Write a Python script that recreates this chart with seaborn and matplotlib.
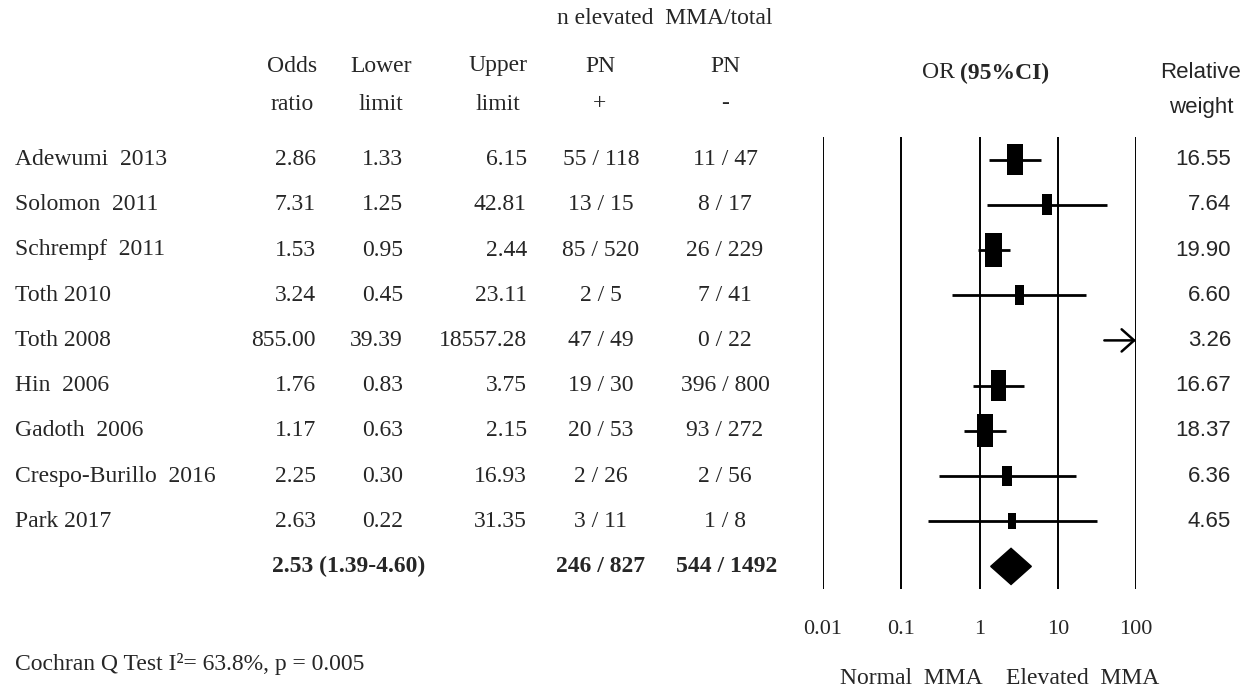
import numpy as np
import pandas as pd
import matplotlib
matplotlib.use("Agg")
import matplotlib.pyplot as plt
import matplotlib.transforms as mtransforms
import seaborn as sns

# Data
studies = ["Adewumi  2013", "Solomon  2011", "Schrempf  2011", "Toth 2010", "Toth 2008",
           "Hin  2006", "Gadoth  2006", "Crespo-Burillo  2016", "Park 2017"]
odds = [2.86, 7.31, 1.53, 3.24, 855.00, 1.76, 1.17, 2.25, 2.63]
lower = [1.33, 1.25, 0.95, 0.45, 39.39, 0.83, 0.63, 0.30, 0.22]
upper = [6.15, 42.81, 2.44, 23.11, 18557.28, 3.75, 2.15, 16.93, 31.35]
pn_pos = ["55 / 118", "13 / 15", "85 / 520", "2 / 5", "47 / 49", "19 / 30", "20 / 53", "2 / 26", "3 / 11"]
pn_neg = ["11 / 47", "8 / 17", "26 / 229", "7 / 41", "0 / 22", "396 / 800", "93 / 272", "2 / 56", "1 / 8"]
weights = [16.55, 7.64, 19.90, 6.60, 3.26, 16.67, 18.37, 6.36, 4.65]
pooled = [2.53, 1.39, 4.60]
pooled_pos = "246 / 827"
pooled_neg = "544 / 1492"
x_ticks = [0.01, 0.1, 1, 10, 100]
tick_labels = ["0.01", "0.1", "1", "10", "100"]

df = pd.DataFrame({"study": studies, "OR": odds, "lo": lower, "hi": upper, "weight": weights})
df["row"] = np.arange(len(df))
pooled_row = len(df)

sns.set_style("white")
plt.rcParams["font.family"] = ["Liberation Serif", "DejaVu Serif"]
SERIF = 17
SANS = 16

W, H = 1252, 691
fig = plt.figure(figsize=(W / 100, H / 100), dpi=100)
fx = lambda px: px / W
fy = lambda py: 1 - py / H

# forest panel
ax = fig.add_axes([fx(823), fy(589), fx(1136) - fx(823), (589 - 137) / H])
ax.set_xscale("log")
ax.set_xlim(0.01, 100)
ax.set_ylim(pooled_row + 0.5, -0.5)
for s in ax.spines.values():
    s.set_visible(False)
for t in x_ticks:
    ax.axvline(t, color="black", lw=1.4)
ax.set_xticks(x_ticks)
ax.set_xticklabels(tick_labels, fontsize=16)
ax.tick_params(axis="x", length=0, pad=22)
ax.minorticks_off()
ax.set_yticks([])

# confidence intervals
inside = df[df["hi"] <= 100]
ax.hlines(inside["row"], inside["lo"], inside["hi"], color="black", lw=2.0)
for _, r in df[df["hi"] > 100].iterrows():
    ax.annotate("", xy=(100, r["row"]), xytext=(r["lo"], r["row"]),
                arrowprops=dict(arrowstyle="->,head_length=0.45,head_width=0.4",
                                color="black", lw=1.8, mutation_scale=20,
                                shrinkA=0, shrinkB=0), annotation_clip=False)

# weight-scaled boxes (area proportional to weight)
box = [(-0.5, -1), (0.5, -1), (0.5, 1), (-0.5, 1), (-0.5, -1)]
k = 30.0
sns.scatterplot(data=df[df["OR"] <= 100], x="OR", y="row", size="weight",
                sizes=(k * df["weight"].min(), k * df["weight"].max()),
                size_norm=(df["weight"].min(), df["weight"].max()),
                marker=box, color="black", edgecolor="none", linewidth=0,
                legend=False, ax=ax, zorder=3)
ax.set_xlabel("")
ax.set_ylabel("")

# pooled diamond
dh = 0.4
ax.fill([pooled[1], pooled[0], pooled[2], pooled[0]],
        [pooled_row, pooled_row - dh, pooled_row, pooled_row + dh],
        color="black", zorder=3)

# table text, rows aligned with the forest rows
tr = mtransforms.blended_transform_factory(fig.transFigure, ax.transData)
for i in range(len(df)):
    ax.text(fx(15), i, studies[i], transform=tr, fontsize=SERIF, va="center", ha="left")
    ax.text(fx(316), i, f"{odds[i]:.2f}", transform=tr, fontsize=SERIF, va="center", ha="right")
    ax.text(fx(403), i, f"{lower[i]:.2f}", transform=tr, fontsize=SERIF, va="center", ha="right")
    ax.text(fx(527), i, f"{upper[i]:.2f}", transform=tr, fontsize=SERIF, va="center", ha="right")
    ax.text(fx(601), i, pn_pos[i], transform=tr, fontsize=SERIF, va="center", ha="center")
    ax.text(fx(725), i, pn_neg[i], transform=tr, fontsize=SERIF, va="center", ha="center")
    ax.text(fx(1231), i, f"{weights[i]:.2f}", transform=tr, fontsize=SANS, va="center",
            ha="right", family="Liberation Sans")

ax.text(fx(272), pooled_row, f"{pooled[0]:.2f} ({pooled[1]:.2f}-{pooled[2]:.2f})", transform=tr,
        fontsize=SERIF, va="center", ha="left", weight="bold")
ax.text(fx(601), pooled_row, pooled_pos, transform=tr, fontsize=SERIF, va="center", ha="center", weight="bold")
ax.text(fx(727), pooled_row, pooled_neg, transform=tr, fontsize=SERIF, va="center", ha="center", weight="bold")

# headers
fig.text(fx(665), fy(19), "n elevated  MMA/total", fontsize=SERIF, ha="center", va="center")
heads = [(292, "Odds", "ratio"), (381, "Lower", "limit"), (498, "Upper", "limit"),
         (600, "PN", "+"), (725, "PN", "-")]
for x, a, b in heads:
    fig.text(fx(x), fy(66), a, fontsize=SERIF, ha="center", va="center")
    fig.text(fx(x), fy(104), b, fontsize=SERIF, ha="center", va="center")
fig.text(fx(922), fy(73), "OR", fontsize=SERIF, ha="left", va="center")
fig.text(fx(960), fy(73), "(95%CI)", fontsize=SERIF, ha="left", va="center", weight="bold")
fig.text(fx(1201), fy(73), "Relative", fontsize=SANS, ha="center", va="center", family="Liberation Sans")
fig.text(fx(1201), fy(107), "weight", fontsize=SANS, ha="center", va="center", family="Liberation Sans")

# footer
fig.text(fx(983), fy(678), "Normal  MMA", fontsize=SERIF, ha="right", va="center")
fig.text(fx(1006), fy(678), "Elevated  MMA", fontsize=SERIF, ha="left", va="center")
fig.text(fx(15), fy(664), "Cochran Q Test I²= 63.8%, p = 0.005", fontsize=SERIF, ha="left", va="center")

fig.savefig("out.png", dpi=100)
